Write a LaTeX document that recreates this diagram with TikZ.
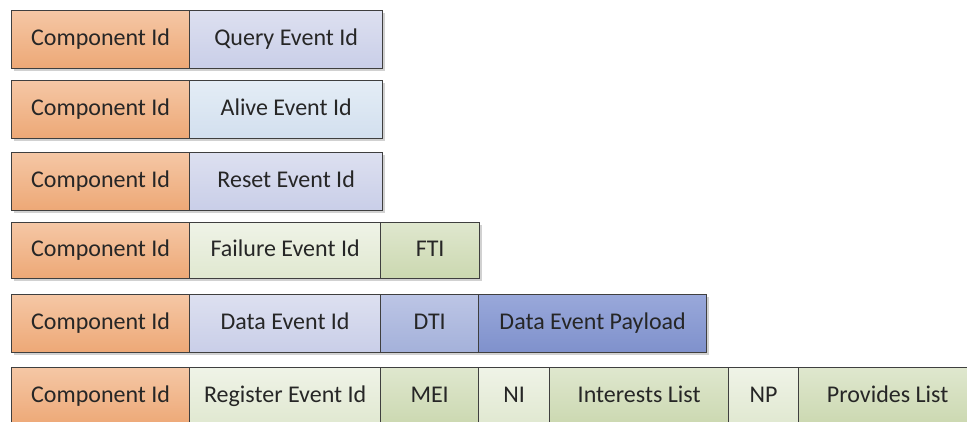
\documentclass[tikz,border=0pt]{standalone}
\usepackage{fontspec}
\setmainfont{Carlito}
\usetikzlibrary{shadows}
\definecolor{txt}{HTML}{262626}
\definecolor{edge}{HTML}{3F3F3F}
\definecolor{orT}{HTML}{F5C7A5}\definecolor{orB}{HTML}{EDA876}
\definecolor{lvT}{HTML}{DDE0F0}\definecolor{lvB}{HTML}{C9CEE8}
\definecolor{lbT}{HTML}{E4EDF6}\definecolor{lbB}{HTML}{D2DFEE}
\definecolor{lgT}{HTML}{EFF3E7}\definecolor{lgB}{HTML}{E0E8D0}
\definecolor{mgT}{HTML}{DFE7CE}\definecolor{mgB}{HTML}{CBD8B0}
\definecolor{dtT}{HTML}{BCC5E5}\definecolor{dtB}{HTML}{A4B1DA}
\definecolor{plT}{HTML}{99A8DA}\definecolor{plB}{HTML}{7F91CC}
\tikzset{
  cell/.style={draw=edge, line width=1.3pt, inner sep=0pt, anchor=north west,
    text=txt, font=\fontsize{24}{26}\selectfont, text height=17pt, text depth=5pt,
    drop shadow={shadow xshift=2.5pt, shadow yshift=-2.5pt, opacity=0.18, fill=black}},
  orange/.style={top color=orT, bottom color=orB},
  lavender/.style={top color=lvT, bottom color=lvB},
  lightblue/.style={top color=lbT, bottom color=lbB},
  lightgreen/.style={top color=lgT, bottom color=lgB},
  midgreen/.style={top color=mgT, bottom color=mgB},
  dtiblue/.style={top color=dtT, bottom color=dtB},
  payload/.style={top color=plT, bottom color=plB},
}
% one field of a packet: name, left, right, top, bottom, style, label
\newcommand{\field}[7]{%
  \pgfmathsetmacro{\fw}{#3-#2}\pgfmathsetmacro{\fh}{#5-#4}%
  \node[cell, #6, minimum width=\fw pt, minimum height=\fh pt] (#1) at (#2,#4) {#7};}
\begin{document}
\begin{tikzpicture}[x=1pt,y=-1pt]
\useasboundingbox (0,0) rectangle (967,422);
% query
\field{qc}{11}{189}{10}{68}{orange}{Component Id}
\field{qe}{189}{382}{10}{68}{lavender}{Query Event Id}
% alive
\field{ac}{11}{189}{80}{138}{orange}{Component Id}
\field{ae}{189}{382}{80}{138}{lightblue}{Alive Event Id}
% reset
\field{rc}{11}{189}{152}{210}{orange}{Component Id}
\field{re}{189}{382}{152}{210}{lavender}{Reset Event Id}
% failure
\field{fc}{11}{189}{222}{278}{orange}{Component Id}
\field{fe}{189}{380}{222}{278}{lightgreen}{Failure Event Id}
\field{ft}{380}{479}{222}{278}{midgreen}{FTI}
% data
\field{dc}{11}{189}{294}{352}{orange}{Component Id}
\field{de}{189}{380}{294}{352}{lavender}{Data Event Id}
\field{dt}{380}{478}{294}{352}{dtiblue}{DTI}
\field{dp}{478}{706}{294}{352}{payload}{Data Event Payload}
% register
\field{gc}{11}{189}{367}{425}{orange}{Component Id}
\field{ge}{189}{380}{367}{425}{lightgreen}{Register Event Id}
\field{gm}{380}{478}{367}{425}{midgreen}{MEI}
\field{gn}{478}{549}{367}{425}{lightgreen}{NI}
\field{gi}{549}{728}{367}{425}{midgreen}{Interests List}
\field{gp}{728}{798}{367}{425}{lightgreen}{NP}
\field{gl}{798}{976}{367}{425}{midgreen}{Provides List}
\end{tikzpicture}
\end{document}
